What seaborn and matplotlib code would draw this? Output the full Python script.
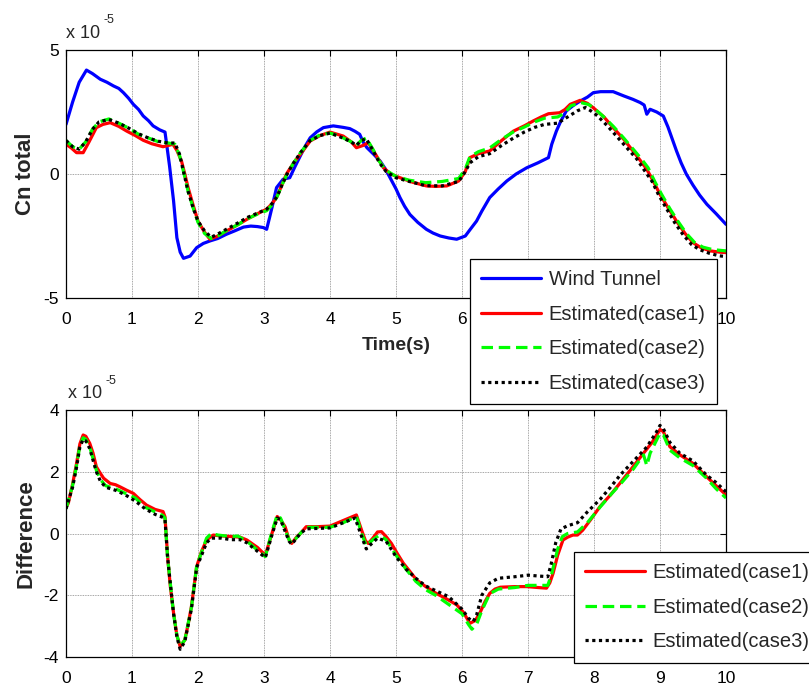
import numpy as np
import pandas as pd
import matplotlib
matplotlib.use("Agg")
import matplotlib.pyplot as plt
import seaborn as sns
from matplotlib.ticker import FuncFormatter, FixedLocator

# ---------------- data (values in units of 1e-5) ----------------
SCALE = 1e-5

wt_t = [0.0, 0.1, 0.2, 0.31, 0.4, 0.52, 0.62, 0.72, 0.8, 0.87, 0.95, 1.02, 1.1, 1.17, 1.25, 1.32, 1.42, 1.5,
        1.53, 1.57, 1.63, 1.68, 1.73, 1.78, 1.88, 1.98, 2.08, 2.18, 2.3, 2.43, 2.55, 2.69, 2.8, 2.9, 2.99, 3.04,
        3.08, 3.12, 3.19, 3.29, 3.39, 3.47, 3.55, 3.62, 3.70, 3.80, 3.90, 4.05, 4.2, 4.30, 4.38, 4.45, 4.5, 4.56,
        4.66, 4.76, 4.84, 4.91, 5.0, 5.06, 5.13, 5.21, 5.33, 5.46, 5.56, 5.67, 5.8, 5.92, 6.05, 6.12, 6.22, 6.3,
        6.42, 6.55, 6.68, 6.82, 6.98, 7.15, 7.31, 7.36, 7.43, 7.5, 7.58, 7.68, 7.79, 7.9, 7.99, 8.1, 8.29, 8.45,
        8.59, 8.7, 8.76, 8.8, 8.85, 8.95, 9.05, 9.12, 9.25, 9.32, 9.40, 9.5, 9.6, 9.71, 9.85, 10.0]
wt_cn = [2.0, 2.9, 3.7, 4.19, 4.05, 3.82, 3.7, 3.55, 3.45, 3.28, 3.05, 2.81, 2.6, 2.34, 2.15, 1.94, 1.78, 1.69,
         1.1, 0.3, -1.09, -2.57, -3.15, -3.40, -3.31, -2.97, -2.8, -2.70, -2.6, -2.43, -2.3, -2.14, -2.1, -2.12,
         -2.16, -2.23, -1.8, -1.36, -0.55, -0.21, -0.15, 0.3, 0.73, 1.1, 1.46, 1.7, 1.87, 1.94, 1.88, 1.83, 1.72,
         1.6, 1.3, 1.06, 0.8, 0.52, 0.2, -0.15, -0.6, -0.95, -1.3, -1.63, -1.95, -2.23, -2.38, -2.5, -2.58, -2.63,
         -2.5, -2.25, -1.9, -1.5, -0.95, -0.6, -0.28, 0.0, 0.25, 0.45, 0.66, 1.2, 1.73, 2.15, 2.54, 2.75, 2.94,
         3.1, 3.28, 3.32, 3.32, 3.15, 3.01, 2.88, 2.78, 2.41, 2.61, 2.5, 2.34, 1.9, 0.93, 0.45, -0.01, -0.45,
         -0.85, -1.22, -1.6, -2.03]

c1_t = [0.0, 0.08, 0.16, 0.26, 0.35, 0.46, 0.56, 0.67, 0.8, 0.92, 1.05, 1.17, 1.3, 1.47, 1.55, 1.62, 1.68, 1.75,
        1.80, 1.85, 1.92, 2.0, 2.1, 2.18, 2.3, 2.43, 2.6, 2.74, 2.9, 3.04, 3.12, 3.19, 3.27, 3.34, 3.45, 3.55,
        3.70, 3.85, 4.0, 4.2, 4.32, 4.40, 4.50, 4.58, 4.7, 4.81, 4.92, 5.06, 5.25, 5.46, 5.6, 5.77, 5.95, 6.05,
        6.12, 6.25, 6.42, 6.6, 6.78, 6.95, 7.08, 7.2, 7.31, 7.48, 7.56, 7.64, 7.79, 7.9, 7.99, 8.15, 8.29, 8.45,
        8.59, 8.7, 8.8, 8.9, 9.0, 9.12, 9.25, 9.38, 9.5, 9.62, 9.76, 9.9, 10.0]
c1_cn = [1.2, 1.05, 0.86, 0.86, 1.3, 1.87, 2.0, 2.07, 1.92, 1.73, 1.55, 1.36, 1.22, 1.1, 1.15, 1.2, 0.95, 0.52,
         0.0, -0.55, -1.2, -1.9, -2.35, -2.63, -2.5, -2.3, -2.05, -1.83, -1.6, -1.42, -1.2, -0.95, -0.45, 0.0,
         0.45, 0.79, 1.33, 1.55, 1.69, 1.53, 1.3, 1.06, 1.15, 1.26, 0.75, 0.25, 0.0, -0.15, -0.33, -0.48, -0.5,
         -0.48, -0.28, 0.1, 0.66, 0.82, 0.93, 1.35, 1.73, 1.95, 2.14, 2.3, 2.43, 2.47, 2.6, 2.81, 2.97, 2.85,
         2.67, 2.3, 1.87, 1.4, 0.93, 0.55, 0.19, -0.3, -0.82, -1.35, -1.9, -2.4, -2.77, -2.97, -3.1, -3.15, -3.17]

c2_t = [0.0, 0.1, 0.2, 0.3, 0.4, 0.5, 0.65, 0.8, 0.95, 1.1, 1.25, 1.4, 1.55, 1.65, 1.72, 1.78, 1.85, 1.93, 2.0,
        2.1, 2.2, 2.3, 2.45, 2.6, 2.75, 2.9, 3.04, 3.12, 3.2, 3.28, 3.35, 3.45, 3.55, 3.7, 3.85, 4.0, 4.15, 4.32,
        4.4, 4.47, 4.55, 4.65, 4.75, 4.85, 5.0, 5.2, 5.45, 5.7, 5.95, 6.05, 6.12, 6.25, 6.42, 6.6, 6.78, 6.95,
        7.1, 7.25, 7.45, 7.55, 7.65, 7.8, 7.92, 8.0, 8.15, 8.3, 8.45, 8.6, 8.72, 8.82, 8.92, 9.02, 9.15, 9.27,
        9.4, 9.52, 9.65, 9.8, 10.0]
c2_cn = [1.35, 1.1, 1.0, 1.3, 1.8, 2.1, 2.22, 2.05, 1.85, 1.6, 1.45, 1.3, 1.25, 1.2, 0.75, 0.1, -0.7, -1.4, -1.95,
         -2.4, -2.6, -2.5, -2.25, -2.05, -1.8, -1.62, -1.48, -1.25, -0.9, -0.4, 0.0, 0.45, 0.85, 1.35, 1.58, 1.65,
         1.52, 1.3, 1.15, 1.35, 1.45, 1.0, 0.5, 0.15, -0.1, -0.25, -0.35, -0.3, -0.18, 0.2, 0.7, 0.9, 1.05, 1.4,
         1.7, 1.9, 2.1, 2.25, 2.3, 2.45, 2.75, 2.88, 2.8, 2.65, 2.3, 1.9, 1.45, 0.98, 0.6, 0.25, -0.3, -0.8,
         -1.4, -1.9, -2.4, -2.75, -2.95, -3.05, -3.1]

c3_t = [0.0, 0.1, 0.2, 0.3, 0.4, 0.5, 0.65, 0.8, 0.95, 1.1, 1.25, 1.4, 1.55, 1.65, 1.72, 1.78, 1.85, 1.93, 2.0,
        2.1, 2.2, 2.3, 2.45, 2.6, 2.75, 2.9, 3.04, 3.12, 3.2, 3.28, 3.35, 3.45, 3.55, 3.7, 3.85, 4.0, 4.15, 4.32,
        4.4, 4.47, 4.55, 4.65, 4.75, 4.85, 5.0, 5.2, 5.45, 5.7, 5.95, 6.05, 6.12, 6.25, 6.42, 6.6, 6.78, 6.95,
        7.1, 7.25, 7.45, 7.6, 7.75, 7.87, 7.95, 8.05, 8.2, 8.35, 8.5, 8.65, 8.75, 8.88, 8.98, 9.1, 9.22, 9.35,
        9.48, 9.6, 9.75, 9.9, 10.0]
c3_cn = [1.35, 1.1, 1.0, 1.3, 1.8, 2.1, 2.2, 2.05, 1.85, 1.62, 1.45, 1.32, 1.25, 1.25, 0.8, 0.1, -0.7, -1.4, -1.9,
         -2.3, -2.55, -2.42, -2.2, -1.98, -1.75, -1.58, -1.42, -1.2, -0.9, -0.4, 0.0, 0.45, 0.85, 1.35, 1.55, 1.65,
         1.5, 1.3, 1.15, 1.35, 1.42, 0.95, 0.45, 0.1, -0.15, -0.3, -0.47, -0.48, -0.3, 0.1, 0.45, 0.7, 0.82, 1.15,
         1.45, 1.7, 1.88, 2.0, 2.05, 2.3, 2.55, 2.68, 2.55, 2.35, 1.95, 1.5, 1.05, 0.6, 0.2, -0.3, -0.85, -1.4,
         -1.95, -2.45, -2.85, -3.05, -3.2, -3.3, -3.33]

d1_t = [0.0, 0.035, 0.1, 0.16, 0.21, 0.26, 0.3, 0.36, 0.41, 0.46, 0.52, 0.57, 0.67, 0.75, 0.82, 0.92, 1.02, 1.12,
        1.22, 1.35, 1.47, 1.5, 1.54, 1.58, 1.63, 1.68, 1.73, 1.8, 1.85, 1.9, 1.98, 2.05, 2.13, 2.23, 2.35, 2.53,
        2.64, 2.74, 2.9, 3.02, 3.12, 3.2, 3.25, 3.32, 3.38, 3.42, 3.5, 3.55, 3.64, 3.8, 4.0, 4.2, 4.40, 4.48,
        4.54, 4.58, 4.65, 4.72, 4.78, 4.85, 4.93, 5.02, 5.11, 5.2, 5.31, 5.45, 5.61, 5.75, 5.92, 6.02, 6.12, 6.2,
        6.27, 6.35, 6.42, 6.5, 6.58, 6.8, 6.98, 7.15, 7.28, 7.33, 7.38, 7.45, 7.53, 7.6, 7.68, 7.75, 7.83, 7.95,
        8.09, 8.25, 8.39, 8.55, 8.75, 8.88, 9.0, 9.05, 9.15, 9.3, 9.5, 9.7, 9.85, 10.0]
d1_v = [0.85, 0.98, 1.6, 2.27, 2.9, 3.19, 3.15, 2.92, 2.6, 2.16, 1.95, 1.79, 1.62, 1.58, 1.51, 1.4, 1.3, 1.1,
        0.92, 0.78, 0.71, 0.54, -0.75, -1.7, -2.58, -3.3, -3.66, -3.45, -2.95, -2.37, -1.07, -0.6, -0.21, -0.05,
        -0.08, -0.1, -0.12, -0.21, -0.45, -0.7, 0.0, 0.55, 0.45, 0.22, -0.2, -0.32, -0.1, 0.0, 0.22, 0.22, 0.24,
        0.42, 0.6, 0.1, -0.25, -0.32, -0.15, 0.05, 0.06, -0.1, -0.32, -0.65, -0.96, -1.2, -1.5, -1.72, -1.94,
        -2.1, -2.31, -2.55, -2.91, -2.82, -2.58, -2.2, -1.94, -1.8, -1.74, -1.72, -1.72, -1.75, -1.77, -1.6,
        -1.29, -0.7, -0.21, -0.12, -0.05, -0.05, 0.11, 0.45, 0.87, 1.25, 1.62, 2.05, 2.6, 2.95, 3.37, 3.3, 2.81,
        2.55, 2.27, 1.85, 1.55, 1.25]

d2_t = [0.0, 0.1, 0.16, 0.21, 0.26, 0.3, 0.36, 0.46, 0.52, 0.6, 0.75, 0.9, 1.05, 1.2, 1.35, 1.47, 1.5, 1.54,
        1.63, 1.68, 1.73, 1.8, 1.9, 1.98, 2.13, 2.2, 2.3, 2.5, 2.6, 2.74, 3.02, 3.12, 3.2, 3.25, 3.38, 3.42, 3.55,
        3.64, 4.0, 4.2, 4.40, 4.48, 4.55, 4.65, 4.75, 4.85, 5.0, 5.15, 5.3, 5.45, 5.6, 5.8, 6.0, 6.1, 6.15, 6.22,
        6.3, 6.42, 6.55, 6.8, 7.0, 7.3, 7.36, 7.45, 7.52, 7.6, 7.75, 7.9, 8.09, 8.25, 8.4, 8.6, 8.75, 8.8, 8.85,
        9.0, 9.05, 9.15, 9.3, 9.5, 9.7, 9.85, 10.0]
d2_v = [0.8, 1.55, 2.2, 2.85, 3.1, 3.05, 2.8, 2.05, 1.75, 1.55, 1.45, 1.3, 1.15, 0.85, 0.7, 0.58, 0.5, -0.8,
        -2.6, -3.3, -3.65, -3.45, -2.4, -1.05, -0.15, 0.0, -0.05, -0.1, -0.08, -0.25, -0.75, 0.05, 0.6, 0.5, -0.2,
        -0.32, 0.0, 0.2, 0.2, 0.35, 0.55, 0.0, -0.4, -0.2, -0.05, -0.2, -0.7, -1.15, -1.55, -1.82, -2.0, -2.3,
        -2.6, -2.95, -3.1, -2.95, -2.5, -1.95, -1.8, -1.75, -1.68, -1.68, -1.3, -0.5, -0.1, 0.0, 0.05, 0.35, 0.85,
        1.25, 1.6, 2.1, 2.55, 2.2, 2.6, 3.25, 3.2, 2.7, 2.45, 2.2, 1.8, 1.45, 1.15]

d3_t = [0.0, 0.1, 0.16, 0.21, 0.26, 0.3, 0.36, 0.46, 0.52, 0.6, 0.75, 0.9, 1.05, 1.2, 1.35, 1.47, 1.5, 1.54,
        1.63, 1.68, 1.73, 1.8, 1.9, 1.98, 2.13, 2.2, 2.35, 2.5, 2.64, 2.74, 3.02, 3.12, 3.2, 3.25, 3.38, 3.42,
        3.55, 3.64, 4.0, 4.2, 4.38, 4.48, 4.55, 4.62, 4.72, 4.85, 5.0, 5.15, 5.3, 5.45, 5.6, 5.8, 6.0, 6.1, 6.17,
        6.22, 6.3, 6.42, 6.55, 6.8, 7.0, 7.3, 7.35, 7.42, 7.5, 7.6, 7.75, 7.9, 8.09, 8.25, 8.4, 8.6, 8.8, 8.95,
        9.0, 9.05, 9.15, 9.3, 9.5, 9.7, 9.85, 10.0]
d3_v = [0.8, 1.5, 2.15, 2.8, 3.05, 3.0, 2.75, 2.0, 1.7, 1.5, 1.4, 1.25, 1.05, 0.8, 0.62, 0.52, 0.45, -0.8, -2.6,
        -3.35, -3.75, -3.5, -2.45, -1.1, -0.3, -0.15, -0.15, -0.2, -0.2, -0.3, -0.78, -0.05, 0.5, 0.45, -0.25,
        -0.35, 0.0, 0.15, 0.18, 0.35, 0.5, -0.1, -0.5, -0.35, -0.15, -0.25, -0.75, -1.15, -1.45, -1.7, -1.85,
        -2.05, -2.45, -2.75, -2.85, -2.65, -2.0, -1.6, -1.45, -1.4, -1.35, -1.4, -1.0, -0.3, 0.15, 0.25, 0.35,
        0.7, 1.1, 1.5, 1.9, 2.35, 2.8, 3.3, 3.5, 3.4, 2.95, 2.6, 2.35, 1.9, 1.65, 1.35]

labels_top = ["Wind Tunnel", "Estimated(case1)", "Estimated(case2)", "Estimated(case3)"]
labels_bot = ["Estimated(case1)", "Estimated(case2)", "Estimated(case3)"]
xticks = [0, 1, 2, 3, 4, 5, 6, 7, 8, 9, 10]
xticklabels_top = ["0", "1", "2", "3", "4", "5", "6", "", "", "", "10"]  # 7-9 sit under the legend
xticklabels_bot = ["0", "1", "2", "3", "4", "5", "6", "7", "8", "9", "10"]
yticks_top = [-5, 0, 5]
yticks_bot = [-4, -2, 0, 2, 4]

# ---------------- style ----------------
sns.set_theme(style="white")
plt.rcParams['font.family'] = ['Liberation Sans', 'DejaVu Sans']
plt.rcParams['axes.edgecolor'] = 'black'
plt.rcParams['axes.linewidth'] = 0.9

W, H = 809, 686
fig = plt.figure(figsize=(W / 100, H / 100), dpi=100)
fig.patch.set_facecolor('white')

def frac_axes(x0, y0, x1, y1):
    return fig.add_axes([x0 / W, 1 - y1 / H, (x1 - x0) / W, (y1 - y0) / H])

ax1 = frac_axes(66, 50, 726, 298)
ax2 = frac_axes(66, 410, 726, 657)

LW = 2.3
sty = [dict(color='#0000ff', linestyle='-'),
       dict(color='#ff0000', linestyle='-'),
       dict(color='#00ff00', linestyle=(0, (3.6, 1.8))),
       dict(color='black', linestyle=(0, (1, 1.1)))]

top_series = [(wt_t, wt_cn), (c1_t, c1_cn), (c2_t, c2_cn), (c3_t, c3_cn)]
for (t, v), lab, s in zip(top_series, labels_top, sty):
    df = pd.DataFrame({'t': t, 'v': np.array(v) * SCALE})
    sns.lineplot(data=df, x='t', y='v', ax=ax1, estimator=None, sort=False,
                 lw=LW, label=lab, **s)

bot_series = [(d1_t, d1_v), (d2_t, d2_v), (d3_t, d3_v)]
for (t, v), lab, s in zip(bot_series, labels_bot, sty[1:]):
    df = pd.DataFrame({'t': t, 'v': np.array(v) * SCALE})
    sns.lineplot(data=df, x='t', y='v', ax=ax2, estimator=None, sort=False,
                 lw=LW, label=lab, **s)

fmt = FuncFormatter(lambda val, pos: f"{val / SCALE:g}")
for ax, yt, xtl, xpad in ((ax1, yticks_top, xticklabels_top, 10), (ax2, yticks_bot, xticklabels_bot, 10)):
    ax.set_xlim(0, 10)
    ax.set_ylim(yt[0] * SCALE, yt[-1] * SCALE)
    ax.xaxis.set_major_locator(FixedLocator(xticks))
    ax.set_xticklabels(xtl)
    ax.yaxis.set_major_locator(FixedLocator([y * SCALE for y in yt]))
    ax.yaxis.set_major_formatter(fmt)
    ax.grid(True, color='#888888', linestyle=(0, (1, 1)), linewidth=0.6)
    ax.tick_params(direction='in', length=4, width=0.8, top=True, right=True,
                   labelsize=12.5, colors='black')
    ax.tick_params(axis='x', pad=xpad)
    ax.tick_params(axis='y', pad=5)
    for sp in ax.spines.values():
        sp.set_color('black')
        sp.set_linewidth(0.9)
    ax.set_facecolor('white')

ax1.set_xlabel("Time(s)", fontsize=14, fontweight='bold')
ax1.xaxis.set_label_coords(0.5, -0.158)
ax1.set_ylabel("Cn total", fontsize=16, fontweight='bold')
ax1.yaxis.set_label_coords(-0.045, 0.5)
ax2.set_xlabel("")
ax2.set_ylabel("Difference", fontsize=16, fontweight='bold')
ax2.yaxis.set_label_coords(-0.045, 0.5)

# exponent labels
fig.text(66.5 / W, 1 - 38 / H, "x 10", fontsize=13, va='baseline', ha='left')
fig.text(104 / W, 1 - 23 / H, "-5", fontsize=9, va='baseline', ha='left')
fig.text(67.5 / W, 1 - 398 / H, "x 10", fontsize=13, va='baseline', ha='left')
fig.text(105.5 / W, 1 - 384 / H, "-5", fontsize=9, va='baseline', ha='left')

leg_kw = dict(fontsize=14.5, frameon=True, fancybox=False, framealpha=1, edgecolor='black',
              handlelength=3.0, handletextpad=0.35, labelspacing=0.78, borderpad=0.55,
              borderaxespad=0, loc='upper left', bbox_transform=fig.transFigure)
l1 = ax1.legend(bbox_to_anchor=(470 / W, 1 - 259 / H), **leg_kw)
l2 = ax2.legend(bbox_to_anchor=(574 / W, 1 - 552 / H), **leg_kw)
for l in (l1, l2):
    l.get_frame().set_linewidth(0.9)
    l.set_zorder(10)
    for h in l.get_lines():
        h.set_linewidth(LW)

fig.savefig("out.png", dpi=100, facecolor='white')
